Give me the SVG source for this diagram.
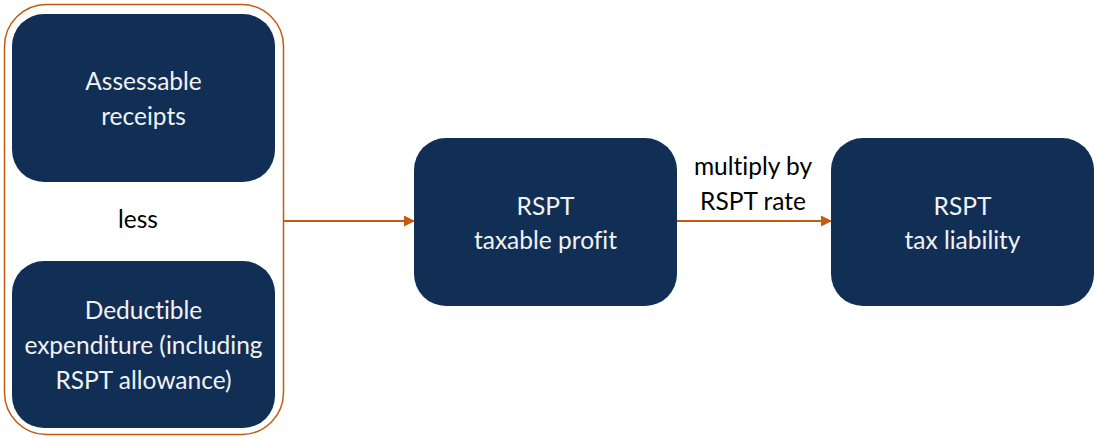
<svg xmlns="http://www.w3.org/2000/svg" width="1095" height="438" viewBox="0 0 1095 438">
  <defs>
    <marker id="arrow" markerWidth="11" markerHeight="11" refX="10" refY="5.5" orient="auto" markerUnits="userSpaceOnUse">
      <path d="M0,0 L11,5.5 L0,11 Z" fill="#C55A11"/>
    </marker>
    <style>
      .box { fill: #112F55; }
      .label { font-family: "Lato", "Liberation Sans", sans-serif; font-size: 24.5px; text-anchor: middle; font-variant-ligatures: none; }
      .inbox { fill: #F2F2F2; }
      .outside { fill: #000000; }
      .conn { stroke: #C55A11; stroke-width: 2; fill: none; }
    </style>
  </defs>

  <!-- grouping frame around the two inputs -->
  <g id="inputs-frame">
    <rect x="4.5" y="4.5" width="279" height="430" rx="42" ry="42" fill="none" stroke="#C55A11" stroke-width="1.5"/>
  </g>

  <g id="assessable-receipts">
    <rect class="box" x="12" y="14" width="263" height="168" rx="32" ry="32"/>
    <text class="label inbox" x="143.5" y="90">Assessable</text>
    <text class="label inbox" x="143.5" y="125">receipts</text>
  </g>

  <g id="less-label">
    <text class="label outside" x="138" y="228">less</text>
  </g>

  <g id="deductible-expenditure">
    <rect class="box" x="12" y="261" width="263" height="167" rx="32" ry="32"/>
    <text class="label inbox" x="143.5" y="319">Deductible</text>
    <text class="label inbox" x="143.5" y="354">expenditure (including</text>
    <text class="label inbox" x="143.5" y="389">RSPT allowance)</text>
  </g>

  <g id="taxable-profit">
    <rect class="box" x="414" y="138" width="263" height="168" rx="32" ry="32"/>
    <text class="label inbox" x="545.5" y="215">RSPT</text>
    <text class="label inbox" x="545.5" y="249">taxable profit</text>
  </g>

  <g id="tax-liability">
    <rect class="box" x="831" y="138" width="263" height="168" rx="32" ry="32"/>
    <text class="label inbox" x="962.5" y="215">RSPT</text>
    <text class="label inbox" x="962.5" y="249">tax liability</text>
  </g>

  <g id="connectors">
    <line class="conn" x1="284" y1="221" x2="414" y2="221" marker-end="url(#arrow)"/>
    <line class="conn" x1="677" y1="221" x2="831" y2="221" marker-end="url(#arrow)"/>
    <text class="label outside" x="753" y="175">multiply by</text>
    <text class="label outside" x="753" y="210">RSPT rate</text>
  </g>
</svg>
